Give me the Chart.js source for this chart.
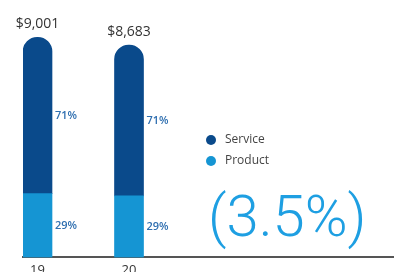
<!DOCTYPE html>
<html>
<head>
<meta charset="utf-8">
<script src="https://cdn.jsdelivr.net/npm/chart.js@4/dist/chart.umd.min.js"></script>
<style>
  html, body { margin: 0; padding: 0; background: #fff; }
  #wrap { position: relative; width: 394px; height: 272px; overflow: hidden; }
</style>
</head>
<body>
<div id="wrap"><canvas id="revChart"></canvas></div>
<script>
// data
const years      = [19, 20];
const totals     = ['$9,001', '$8,683'];
const service    = [6391, 6165];
const product    = [2610, 2518];
const servicePct = ['71%', '71%'];
const productPct = ['29%', '29%'];
const changeText = '(3.5%)';

const DARK  = '#0a4a8b';
const LIGHT = '#1595d3';

// percent labels beside each segment, totals above each bar
const labelPlugin = {
  id: 'labels',
  afterDatasetsDraw(chart) {
    const ctx = chart.ctx;
    ctx.save();
    ctx.textBaseline = 'middle';
    const pctSets = [productPct, servicePct];
    chart.data.datasets.forEach((ds, di) => {
      const meta = chart.getDatasetMeta(di);
      meta.data.forEach((bar, i) => {
        ctx.font = '600 11px "Open Sans"';
        ctx.fillStyle = '#2f6fb0';
        ctx.textAlign = 'left';
        ctx.fillText(pctSets[di][i], bar.x + bar.width / 2 + 3, (bar.y + bar.base) / 2);
        if (di === chart.data.datasets.length - 1) {
          ctx.font = '14px "Open Sans"';
          ctx.fillStyle = '#333';
          ctx.textAlign = 'center';
          ctx.fillText(totals[i], bar.x, bar.y - 13);
        }
      });
    });

    // legend
    const items = [chart.data.datasets[1], chart.data.datasets[0]];
    items.forEach((ds, k) => {
      const y = 140 + k * 21;
      ctx.beginPath();
      ctx.fillStyle = ds.backgroundColor;
      ctx.arc(211, y, 5, 0, Math.PI * 2);
      ctx.fill();
      ctx.font = '12px "Open Sans"';
      ctx.fillStyle = '#444';
      ctx.textAlign = 'left';
      ctx.fillText(ds.label, 225, y);
    });

    // big change figure
    ctx.font = '300 58px Roboto';
    ctx.fillStyle = '#1e9fe2';
    ctx.textAlign = 'left';
    ctx.textBaseline = 'alphabetic';
    ctx.fillText(changeText, 208, 236);
    ctx.restore();
  }
};

new Chart(document.getElementById('revChart'), {
  type: 'bar',
  data: {
    datasets: [
      {
        label: 'Product',
        data: years.map((yr, i) => ({ x: yr, y: product[i] })),
        backgroundColor: LIGHT,
        barThickness: 29,
        borderWidth: 0
      },
      {
        label: 'Service',
        data: years.map((yr, i) => ({ x: yr, y: service[i] })),
        backgroundColor: DARK,
        barThickness: 29,
        borderWidth: 0,
        borderSkipped: false,
        borderRadius: { topLeft: 14.5, topRight: 14.5, bottomLeft: 0, bottomRight: 0 }
      }
    ]
  },
  options: {
    responsive: true, maintainAspectRatio: false, animation: false,
    layout: { padding: { left: 23, right: 0, top: 13, bottom: -11 } },
    plugins: { legend: { display: false }, tooltip: { enabled: false } },
    scales: {
      x: {
        type: 'linear', stacked: true, offset: false,
        min: 18.8415, max: 22.896,
        afterBuildTicks: axis => { axis.ticks = years.map(v => ({ value: v })); },
        grid: { display: false, drawTicks: false },
        border: { display: true, color: '#555', width: 2 },
        ticks: { padding: 5, color: '#333', font: { size: 13, family: '"Open Sans"' },
                 callback: v => String(v) }
      },
      y: { stacked: true, display: false, min: 0, max: 10000 }
    }
  },
  plugins: [labelPlugin]
});
</script>
</body>
</html>
